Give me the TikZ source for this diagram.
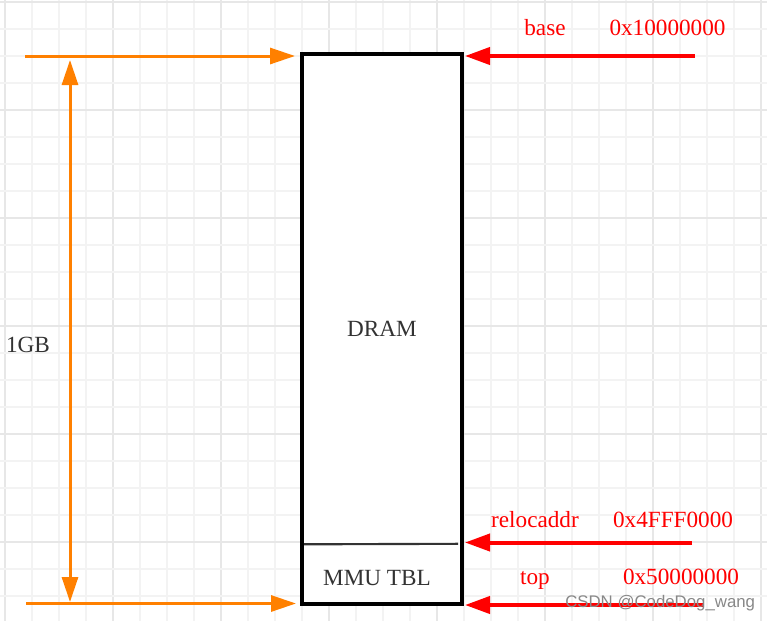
\documentclass[tikz,border=0pt]{standalone}
\usepackage{fontspec}
\setmainfont{Liberation Serif}
\newfontfamily\wmfont{Liberation Sans}
\usetikzlibrary{arrows.meta}
\definecolor{orangeA}{HTML}{FF8000}
\definecolor{redA}{HTML}{FF0000}
\definecolor{txtgray}{HTML}{333333}
\definecolor{gridminor}{HTML}{F3F3F3}
\definecolor{gridmajor}{HTML}{E7E7E7}
\definecolor{wmgray}{HTML}{888888}
\begin{document}
\begin{tikzpicture}[x=0.75pt,y=-0.75pt,
  orangearrow/.style={draw=orangeA, line width=2.25pt, -{Triangle[length=18.75pt,width=12pt]}},
  orangedouble/.style={draw=orangeA, line width=2.25pt, {Triangle[length=18.75pt,width=12pt]}-{Triangle[length=18.75pt,width=12pt]}},
  redarrow/.style={draw=redA, line width=3pt, -{Triangle[length=18.75pt,width=12.75pt]}},
  redlabel/.style={text=redA, font=\fontsize{17.4pt}{20pt}\selectfont, anchor=base, inner sep=0pt},
  graylabel/.style={text=txtgray, font=\fontsize{17.4pt}{20pt}\selectfont, anchor=base, inner sep=0pt},
  memblock/.style={draw=black, line width=2.6pt, fill=white, text=txtgray, font=\fontsize{17.4pt}{20pt}\selectfont, inner sep=0pt},
  divline/.style={draw=txtgray, line width=1.6pt},
  watermark/.style={text=wmgray, font=\wmfont\fontsize{12.6pt}{14pt}\selectfont, anchor=base west, inner sep=0pt}
]
\useasboundingbox (0,0) rectangle (767,621);
\fill[white] (0,0) rectangle (767,621);
% grid
\foreach \i in {0,...,28}{
  \pgfmathtruncatemacro\m{mod(\i,4)}
  \ifnum\m=0 \def\gc{gridmajor}\else\def\gc{gridminor}\fi
  \draw[draw=\gc, line width=1.2pt] ({5+27*\i},0) -- ({5+27*\i},621);
}
\foreach \j in {0,...,22}{
  \pgfmathtruncatemacro\m{mod(\j,4)}
  \ifnum\m=0 \def\gc{gridmajor}\else\def\gc{gridminor}\fi
  \draw[draw=\gc, line width=1.2pt] (0,{2+27*\j}) -- (767,{2+27*\j});
}
% memory block
\node[memblock, minimum width=120pt, minimum height=412.5pt] (dram) at (382,329) {DRAM};
\coordinate (divL) at (304,544.3);
\coordinate (divR) at (458,543.8);
\draw[divline] (divL) -- (divR);
\node[graylabel] (mmu) at (377,585) {MMU TBL};
% orange arrows
\coordinate (oTopL) at (25,56);
\coordinate (oTopR) at (295,56);
\coordinate (oBotL) at (26,603.5);
\coordinate (oBotR) at (296,603.5);
\coordinate (vTop) at (70,60);
\coordinate (vBot) at (70,602);
\draw[orangearrow] (oTopL) -- (oTopR);
\draw[orangearrow] (oBotL) -- (oBotR);
\draw[orangedouble] (vTop) -- (vBot);
\node[graylabel] (gb) at (28,352) {1GB};
% red arrows
\coordinate (rTopR) at (695,56);
\coordinate (rTopL) at (465,56);
\coordinate (rMidR) at (692,542.5);
\coordinate (rMidL) at (465,542.5);
\coordinate (rBotR) at (703,605);
\coordinate (rBotL) at (465,605);
\draw[redarrow] (rTopR) -- (rTopL);
\draw[redarrow] (rMidR) -- (rMidL);
\draw[redarrow] (rBotR) -- (rBotL);
\node[redlabel] (base) at (545,36) {base};
\node[redlabel] (baseaddr) at (667.5,36) {0x10000000};
\node[redlabel] (reloc) at (535,527) {relocaddr};
\node[redlabel] (relocaddr) at (673,527) {0x4FFF0000};
\node[redlabel] (top) at (535,584) {top};
\node[redlabel] (topaddr) at (681,584) {0x50000000};
\node[watermark] (wm) at (565,607) {CSDN @CodeDog\_wang};
\end{tikzpicture}
\end{document}
